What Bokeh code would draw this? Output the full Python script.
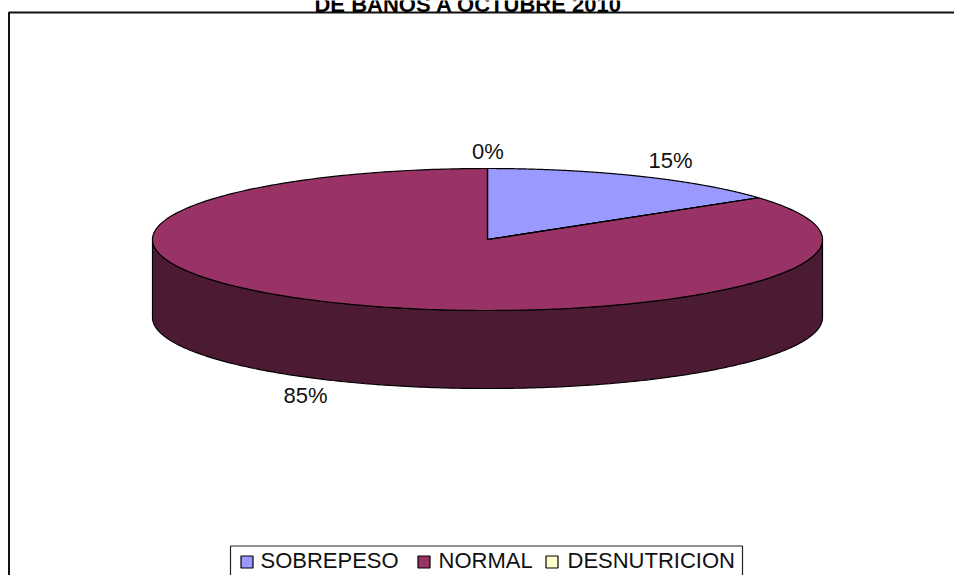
import numpy as np
from bokeh.plotting import figure
from bokeh.embed import file_html
from bokeh.resources import INLINE
from bokeh.core.properties import value

categories = ["SOBREPESO", "NORMAL", "DESNUTRICION"]
values = [15, 85, 0]
labels = ["15%", "85%", "0%"]
colors = ["#9999FF", "#993366", "#FFFFCC"]
side_color = "#4D1A33"
title_tail = "DE BAÑOS A OCTUBRE 2010"

W, H = 954, 575
CX, CY, RX, RY, DEPTH = 487, 239, 335, 71, 78
FONT = "Liberation Sans"

p = figure(width=W, height=H, x_range=(0, W), y_range=(H, 0), output_backend="svg",
           toolbar_location=None, min_border=0, outline_line_color=None,
           background_fill_color="white", border_fill_color="white",
           margin=0)
p.xaxis.visible = False
p.yaxis.visible = False
p.grid.visible = False


def pt(t):
    return CX + RX * np.sin(t), CY - RY * np.cos(t)


# side wall of the visible (front) half
t = np.linspace(np.pi / 2, 3 * np.pi / 2, 240)
xs, ys = pt(t)
p.patch(np.r_[xs, xs[::-1]], np.r_[ys, ys[::-1] + DEPTH], fill_color=side_color,
        line_color="black", line_width=1.2)

# top slices
total = sum(values)
start = 0.0
for v, c in zip(values, colors):
    end = start + 2 * np.pi * v / total
    if v > 0:
        t = np.linspace(start, end, 360)
        xs, ys = pt(t)
        p.patch(np.r_[CX, xs], np.r_[CY, ys], fill_color=c, line_color="black", line_width=1.2)
    start = end

# re-stroke the slice radii
ends = np.cumsum(values) / total * 2 * np.pi
x1, y1 = pt(ends[0])
p.line([CX, CX], [CY - RY, CY], line_color="black", line_width=1.2)
p.line([CX, x1], [CY, y1], line_color="black", line_width=1.2)

# data labels
p.text([670, 305, 487.5], [160, 395, 151], text=labels,
       text_font=value(FONT), text_font_size="22px", text_color="#111111",
       text_align="center", text_baseline="middle")

# chart frame: only top and left are inside the crop
p.line([8.5, 8.5, W], [H, 12, 12], line_color="#111111", line_width=2)

# title tail cut off by the crop
p.text([468], [4], text=[title_tail], text_font=value(FONT), text_font_style="bold",
       text_font_size="22px", text_color="black", text_align="center", text_baseline="alphabetic")

# legend
p.line([230, 230, 742, 742], [H, 545.5, 545.5, H], line_color="#222222", line_width=1.2)
sw_x = [246.5, 423.5, 551.5]
tx_x = [260, 438, 567]
p.rect(sw_x, [561.5] * 3, width=12, height=12, fill_color=colors, line_color="black", line_width=1.2)
p.text(tx_x, [560] * 3, text=categories, text_font=value(FONT), text_font_size="22px",
       text_color="#111111", text_align="left", text_baseline="middle")

open("out.html", "w").write(file_html(p, INLINE))
